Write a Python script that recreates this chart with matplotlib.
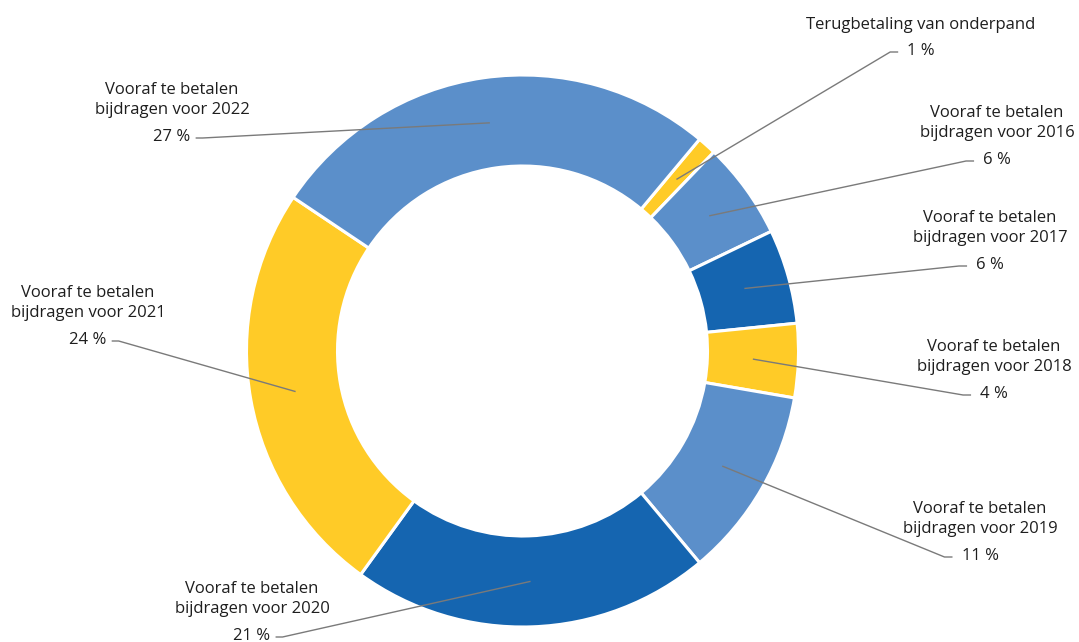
import numpy as np
import matplotlib
matplotlib.use('Agg')
import matplotlib.pyplot as plt

# =======================================================================================
# Data
# =======================================================================================

names = ['Terugbetaling van onderpand',
         'Vooraf te betalen\nbijdragen voor 2016',
         'Vooraf te betalen\nbijdragen voor 2017',
         'Vooraf te betalen\nbijdragen voor 2018',
         'Vooraf te betalen\nbijdragen voor 2019',
         'Vooraf te betalen\nbijdragen voor 2020',
         'Vooraf te betalen\nbijdragen voor 2021',
         'Vooraf te betalen\nbijdragen voor 2022']
# shares (the printed labels are rounded)
shares = [1.11, 5.67, 5.53, 4.33, 11.19, 21.06, 24.42, 26.69]
pct_labels = ['1 %', '6 %', '6 %', '4 %', '11 %', '21 %', '24 %', '27 %']

# =======================================================================================
# Style / layout
# =======================================================================================

LIGHT, DARK, YELLOW = '#5b8fca', '#1565b0', '#ffcb27'
colors = [YELLOW, LIGHT, DARK, YELLOW, LIGHT, DARK, YELLOW, LIGHT]

W, H = 1079, 642
cx, cy = 522.5, H - 351
R, ring = 276, 91

# label placement (pixel coords from top-left): x centre, y of the pct line, side
label_pos = [(921, 51, 'r'), (997, 160, 'r'), (990, 265, 'r'), (994, 394, 'r'),
             (980, 556, 'r'), (252, 636, 'l'), (88, 340, 'l'), (172, 137, 'l')]

plt.rcParams['font.family'] = ['Open Sans', 'DejaVu Sans']
TXT = '#1e1e1e'
LINE = '#7a7a7a'
FS = 12

fig = plt.figure(figsize=(W / 100, H / 100), dpi=100, facecolor='w')
ax = fig.add_axes([0, 0, 1, 1])

wedges, _ = ax.pie(shares, colors=colors, startangle=50.1, counterclock=False,
                   center=(cx, cy), radius=R, frame=True,
                   wedgeprops=dict(width=ring, edgecolor='white', linewidth=2.2))
ax.set_xlim(0, W)
ax.set_ylim(0, H)
ax.axis('off')

fig.canvas.draw()
renderer = fig.canvas.get_renderer()
inv = ax.transData.inverted()

r_mid = R - ring / 2
for w, name, pct, (lx, ly, side) in zip(wedges, names, pct_labels, label_pos):
    y = H - ly
    t = ax.text(lx, y, pct, ha='center', va='center', fontsize=FS, color=TXT)
    nlines = name.count('\n') + 1
    ax.text(lx, y + (37 if nlines == 2 else 26), name, ha='center', va='center',
            fontsize=FS, color=TXT, linespacing=1.3, multialignment='center')

    # leader: short horizontal tick next to the pct, then to the middle of the ring
    bb = t.get_window_extent(renderer)
    (x0, _), (x1, _) = inv.transform([[bb.x0, 0], [bb.x1, 0]])
    ly_line = y - 1
    if side == 'r':
        xs, xe = x0 - 9, x0 - 17
    else:
        xs, xe = x1 + 5, x1 + 12
    ang = np.deg2rad((w.theta1 + w.theta2) / 2)
    ax0, ay0 = cx + r_mid * np.cos(ang), cy + r_mid * np.sin(ang)
    ax.plot([xs, xe, ax0], [ly_line, ly_line, ay0], color=LINE, lw=1.0,
            solid_capstyle='butt')

fig.savefig('out.png', dpi=100, facecolor='w')
